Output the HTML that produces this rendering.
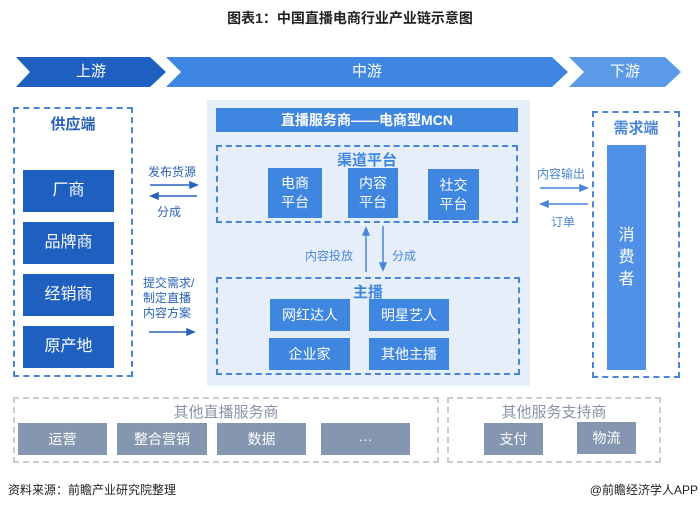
<!DOCTYPE html>
<html><head><meta charset="utf-8"><style>
body{margin:0;width:700px;height:510px;background:#fff;font-family:"Liberation Sans","Noto Sans CJK SC",sans-serif;position:relative;overflow:hidden}
div{position:absolute;box-sizing:border-box}
.b{display:flex;align-items:center;justify-content:center;color:#fff;text-align:center;line-height:1.35}
.d{border:2px dashed #4a86d8}
.g{border:2px dashed #c9cdd4}
.t{color:#2a62b8;font-size:12px;white-space:nowrap}
.dk{background:#1e5fbf;font-size:16px}
.md{background:#3f86e0;font-size:14px}
.gr{background:#8496b0;font-size:14px}
</style></head><body>
<div style="left:0;top:8px;width:700px;text-align:center;font-size:14px;font-weight:bold;color:#222">图表1：中国直播电商行业产业链示意图</div>
<div style="left:207px;top:100px;width:323px;height:286px;background:#e6eefa"></div>
<svg style="position:absolute;left:0;top:0;z-index:2" width="700" height="510">
<polygon points="16,57 150,57 166,72 150,87 16,87 30,72" fill="#1e5fbf"/>
<polygon points="166,57 552,57 568,72 552,87 166,87 181,72" fill="#3f86e0"/>
<polygon points="569,57 665,57 681,72 665,87 569,87 584,72" fill="#5a9ae6"/>
<g stroke="#2a62b8" stroke-width="1.5" fill="#2a62b8">
<line x1="150" y1="185" x2="194" y2="185"/><polygon points="197,185 190,182 190,188"/>
<line x1="154" y1="196" x2="197" y2="196"/><polygon points="151,196 158,193 158,199"/>
<line x1="149" y1="332" x2="190" y2="332"/><polygon points="194,332 187,329 187,335"/>
</g>
<g stroke="#4a86d8" stroke-width="1.5" fill="#4a86d8">
<line x1="540" y1="188" x2="583" y2="188"/><polygon points="587,188 580,185 580,191"/>
<line x1="545" y1="204" x2="588" y2="204"/><polygon points="541,204 548,201 548,207"/>
<line x1="366" y1="232" x2="366" y2="272"/><polygon points="366,228 363,235 369,235"/>
<line x1="383" y1="226" x2="383" y2="266"/><polygon points="383,270 380,263 386,263"/>
</g>
</svg>
<div class="b" style="left:16px;top:57px;width:150px;height:30px;font-size:15px;z-index:3">上游</div>
<div class="b" style="left:166px;top:57px;width:402px;height:30px;font-size:15px;z-index:3">中游</div>
<div class="b" style="left:569px;top:57px;width:112px;height:30px;font-size:15px;z-index:3">下游</div>

<div class="d" style="left:13px;top:107px;width:120px;height:270px"></div>
<div class="t" style="left:13px;top:113px;width:120px;text-align:center;font-size:15px;font-weight:bold;color:#2a62b8">供应端</div>
<div class="b dk" style="left:23px;top:170px;width:91px;height:42px">厂商</div>
<div class="b dk" style="left:23px;top:222px;width:91px;height:42px">品牌商</div>
<div class="b dk" style="left:23px;top:274px;width:91px;height:42px">经销商</div>
<div class="b dk" style="left:23px;top:326px;width:91px;height:42px">原产地</div>

<div class="t" style="left:148px;top:163px">发布货源</div>
<div class="t" style="left:157px;top:203px">分成</div>
<div class="t" style="left:143px;top:276px;line-height:15px">提交需求/<br>制定直播<br>内容方案</div>

<div class="b" style="left:216px;top:108px;width:302px;height:24px;background:#3f86e0;font-size:14px;font-weight:bold">直播服务商——电商型MCN</div>
<div class="d" style="left:216px;top:145px;width:302px;height:78px"></div>
<div class="t" style="left:216px;top:149px;width:302px;text-align:center;font-size:15px;font-weight:bold;color:#3f86e0">渠道平台</div>
<div class="b md" style="left:268px;top:168px;width:54px;height:50px">电商<br>平台</div>
<div class="b md" style="left:348px;top:168px;width:50px;height:50px">内容<br>平台</div>
<div class="b md" style="left:428px;top:169px;width:51px;height:51px">社交<br>平台</div>
<div class="t" style="left:305px;top:247px;color:#4a86d8">内容投放</div>
<div class="t" style="left:392px;top:247px;color:#4a86d8">分成</div>
<div class="d" style="left:216px;top:277px;width:304px;height:98px"></div>
<div class="t" style="left:216px;top:281px;width:304px;text-align:center;font-size:15px;font-weight:bold;color:#3f86e0">主播</div>
<div class="b md" style="left:270px;top:299px;width:80px;height:32px">网红达人</div>
<div class="b md" style="left:369px;top:299px;width:80px;height:32px">明星艺人</div>
<div class="b md" style="left:269px;top:338px;width:81px;height:32px">企业家</div>
<div class="b md" style="left:369px;top:338px;width:80px;height:32px">其他主播</div>

<div class="t" style="left:537px;top:165px;color:#4a86d8">内容输出</div>
<div class="t" style="left:551px;top:213px;color:#4a86d8">订单</div>
<div class="d" style="left:592px;top:111px;width:88px;height:267px"></div>
<div class="t" style="left:592px;top:117px;width:88px;text-align:center;font-size:15px;font-weight:bold;color:#4a86d8">需求端</div>
<div class="b" style="left:607px;top:145px;width:39px;height:225px;background:#5090e6;font-size:16px;line-height:22px">消<br>费<br>者</div>

<div class="g" style="left:13px;top:397px;width:426px;height:66px"></div>
<div style="left:13px;top:401px;width:426px;text-align:center;font-size:15px;color:#8a94a6">其他直播服务商</div>
<div class="b gr" style="left:18px;top:423px;width:89px;height:32px">运营</div>
<div class="b gr" style="left:117px;top:423px;width:90px;height:32px">整合营销</div>
<div class="b gr" style="left:217px;top:423px;width:89px;height:32px">数据</div>
<div class="b gr" style="left:321px;top:423px;width:89px;height:32px">···</div>
<div class="g" style="left:447px;top:397px;width:214px;height:66px"></div>
<div style="left:447px;top:401px;width:214px;text-align:center;font-size:15px;color:#8a94a6">其他服务支持商</div>
<div class="b gr" style="left:484px;top:423px;width:59px;height:32px">支付</div>
<div class="b gr" style="left:577px;top:422px;width:59px;height:32px">物流</div>

<div style="left:8px;top:481px;font-size:12px;color:#222">资料来源：前瞻产业研究院整理</div>
<div style="right:2px;top:481px;font-size:12px;color:#222">@前瞻经济学人APP</div>
</body></html>
